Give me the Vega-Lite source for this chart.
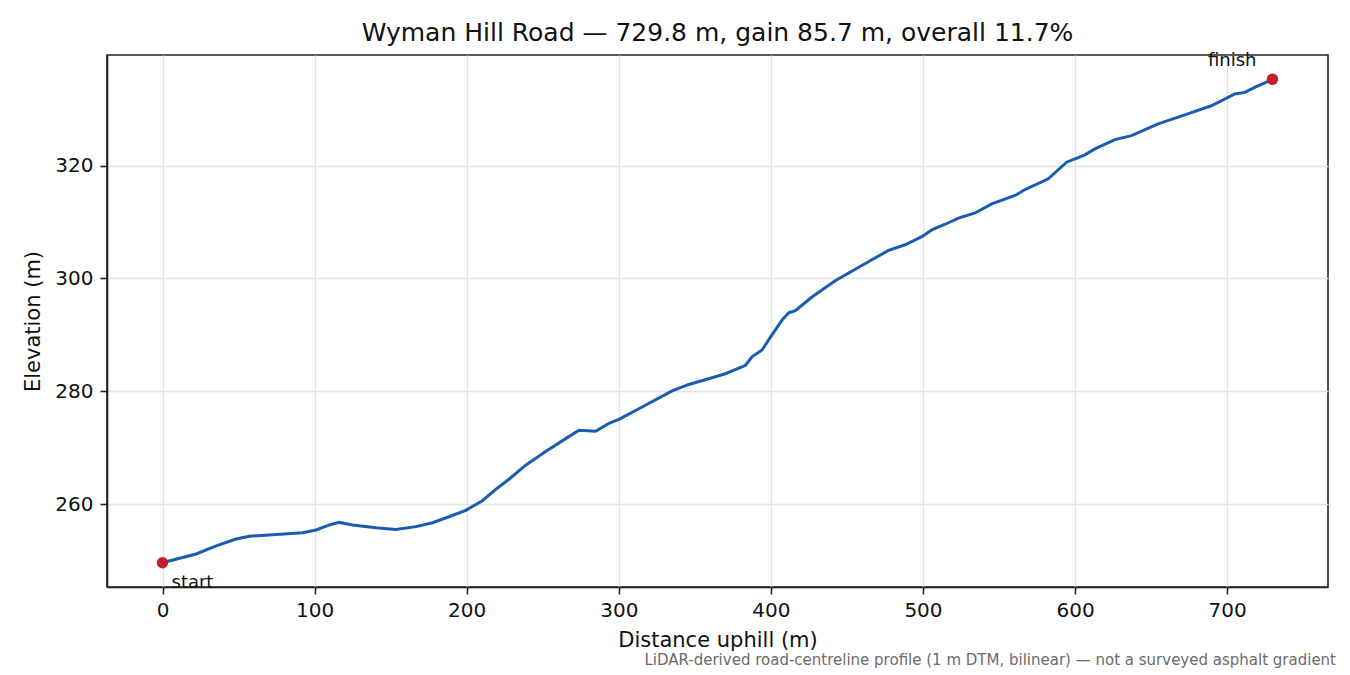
{
  "$schema": "https://vega.github.io/schema/vega-lite/v6.json",
  "autosize": "none",
  "width": 1221,
  "height": 532,
  "padding": {"left": 107, "top": 55, "right": 22, "bottom": 88},
  "background": "white",
  "config": {
    "font": "DejaVu Sans",
    "view": {"stroke": "#222222", "strokeWidth": 1.6},
    "axis": {
      "domainColor": "#222222",
      "domainWidth": 1.6,
      "tickColor": "#222222",
      "tickWidth": 1.6,
      "gridColor": "#e2e2e2",
      "gridWidth": 1.4,
      "tickSize": 7,
      "labelFontSize": 20,
      "labelColor": "#111111",
      "titleFontSize": 21,
      "titleFontWeight": "normal",
      "titleColor": "#111111",
      "labelFont": "DejaVu Sans",
      "titleFont": "DejaVu Sans"
    }
  },
  "title": {
    "text": "Wyman Hill Road — 729.8 m, gain 85.7 m, overall 11.7%",
    "fontSize": 25,
    "fontWeight": "normal",
    "font": "DejaVu Sans",
    "color": "#111111",
    "offset": 6
  },
  "datasets": {
    "profile": [
      {"distance": 0, "elevation": 249.6},
      {"distance": 11.2, "elevation": 250.4},
      {"distance": 22.1, "elevation": 251.15},
      {"distance": 35.3, "elevation": 252.6},
      {"distance": 48.4, "elevation": 253.8},
      {"distance": 57.1, "elevation": 254.3},
      {"distance": 92.1, "elevation": 254.9},
      {"distance": 100.9, "elevation": 255.4},
      {"distance": 109.7, "elevation": 256.3},
      {"distance": 116.2, "elevation": 256.75},
      {"distance": 125, "elevation": 256.3},
      {"distance": 140.3, "elevation": 255.8},
      {"distance": 153.4, "elevation": 255.5},
      {"distance": 166.6, "elevation": 256.0},
      {"distance": 177.5, "elevation": 256.7},
      {"distance": 188.4, "elevation": 257.75},
      {"distance": 199.4, "elevation": 258.9},
      {"distance": 210.3, "elevation": 260.6},
      {"distance": 219.1, "elevation": 262.6},
      {"distance": 227.8, "elevation": 264.4},
      {"distance": 238.8, "elevation": 266.9},
      {"distance": 251.9, "elevation": 269.3},
      {"distance": 265.1, "elevation": 271.6},
      {"distance": 273.8, "elevation": 273.1},
      {"distance": 284.8, "elevation": 272.9},
      {"distance": 293.5, "elevation": 274.3},
      {"distance": 300.1, "elevation": 275.0},
      {"distance": 313.2, "elevation": 276.9},
      {"distance": 335.1, "elevation": 280.05},
      {"distance": 346.0, "elevation": 281.2},
      {"distance": 361.3, "elevation": 282.4},
      {"distance": 370.1, "elevation": 283.1},
      {"distance": 383.3, "elevation": 284.6},
      {"distance": 387.6, "elevation": 286.1},
      {"distance": 394.2, "elevation": 287.3},
      {"distance": 398.6, "elevation": 289.15},
      {"distance": 407.3, "elevation": 292.6},
      {"distance": 411.7, "elevation": 293.9},
      {"distance": 416.1, "elevation": 294.3},
      {"distance": 427.0, "elevation": 296.7},
      {"distance": 442.3, "elevation": 299.6},
      {"distance": 459.8, "elevation": 302.3},
      {"distance": 466.4, "elevation": 303.3},
      {"distance": 477.3, "elevation": 304.96},
      {"distance": 488.3, "elevation": 305.96},
      {"distance": 499.2, "elevation": 307.4},
      {"distance": 505.8, "elevation": 308.6},
      {"distance": 514.6, "elevation": 309.6},
      {"distance": 523.3, "elevation": 310.7},
      {"distance": 534.3, "elevation": 311.6},
      {"distance": 545.2, "elevation": 313.2},
      {"distance": 560.5, "elevation": 314.7},
      {"distance": 567.1, "elevation": 315.75},
      {"distance": 582.4, "elevation": 317.65},
      {"distance": 594.4, "elevation": 320.6},
      {"distance": 606.5, "elevation": 321.9},
      {"distance": 613.0, "elevation": 322.95},
      {"distance": 626.2, "elevation": 324.6},
      {"distance": 637.1, "elevation": 325.3},
      {"distance": 654.6, "elevation": 327.4},
      {"distance": 672.1, "elevation": 329.0},
      {"distance": 689.6, "elevation": 330.6},
      {"distance": 705.0, "elevation": 332.7},
      {"distance": 711.6, "elevation": 332.97},
      {"distance": 718.1, "elevation": 333.85},
      {"distance": 729.8, "elevation": 335.3}
    ],
    "ends": [
      {"distance": 0, "elevation": 249.6, "label": "start"},
      {"distance": 729.8, "elevation": 335.3, "label": "finish"}
    ],
    "note": [
      {"text": "LiDAR-derived road-centreline profile (1 m DTM, bilinear) — not a surveyed asphalt gradient"}
    ]
  },
  "encoding": {
    "x": {
      "field": "distance",
      "type": "quantitative",
      "title": "Distance uphill (m)",
      "scale": {"domain": [-36.49, 766.29], "nice": false, "zero": false},
      "axis": {"values": [0, 100, 200, 300, 400, 500, 600, 700], "labelPadding": 6, "titlePadding": 9}
    },
    "y": {
      "field": "elevation",
      "type": "quantitative",
      "title": "Elevation (m)",
      "scale": {"domain": [245.3, 339.6], "nice": false, "zero": false},
      "axis": {"values": [260, 280, 300, 320], "labelPadding": 7, "titlePadding": 11}
    }
  },
  "layer": [
    {
      "data": {"name": "profile"},
      "mark": {"type": "line", "color": "#1a5cb0", "strokeWidth": 3, "interpolate": "linear"}
    },
    {
      "data": {"name": "ends"},
      "mark": {"type": "point", "filled": true, "color": "#c41e2a", "opacity": 1, "size": 130}
    },
    {
      "data": {"name": "ends"},
      "transform": [{"filter": "datum.label == 'start'"}],
      "mark": {"type": "text", "align": "left", "baseline": "middle", "dx": 9, "dy": 20, "fontSize": 18, "color": "#111111"},
      "encoding": {"text": {"field": "label"}}
    },
    {
      "data": {"name": "ends"},
      "transform": [{"filter": "datum.label == 'finish'"}],
      "mark": {"type": "text", "align": "right", "baseline": "middle", "dx": -16, "dy": -18, "fontSize": 18, "color": "#111111"},
      "encoding": {"text": {"field": "label"}}
    },
    {
      "data": {"name": "note"},
      "mark": {"type": "text", "align": "right", "baseline": "middle", "x": {"expr": "width + 8"}, "y": {"expr": "height + 73"}, "fontSize": 15, "color": "#6b6b6b"},
      "encoding": {"x": null, "y": null, "text": {"field": "text"}}
    }
  ]
}
